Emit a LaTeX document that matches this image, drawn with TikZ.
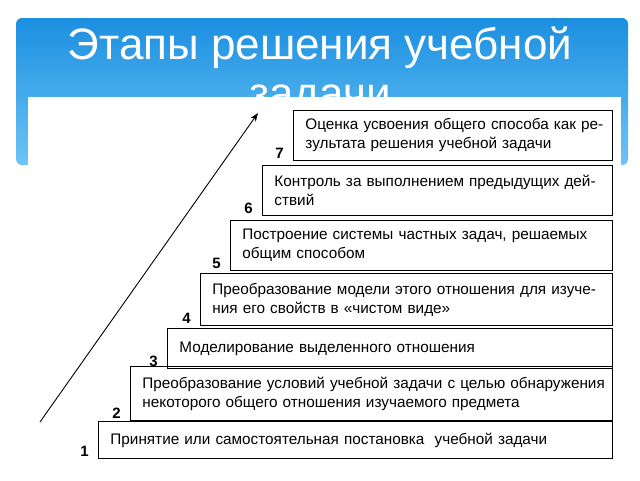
\documentclass[tikz,border=0pt]{standalone}
\usepackage{fontspec}
\setmainfont{Liberation Sans}
\usetikzlibrary{positioning}
\usetikzlibrary{arrows.meta}
\tikzset{
  stage/.style={draw, line width=0.9pt, anchor=north west, inner sep=0pt,
    align=left, font=\fontsize{15.3}{19}\selectfont},
  num/.style={font=\bfseries\fontsize{15}{16}\selectfont, inner sep=1pt},
}
\definecolor{bartop}{HTML}{1B8FE0}
\definecolor{barbot}{HTML}{6DC4F6}
\begin{document}
\begin{tikzpicture}[x=1pt,y=-1pt]
    \useasboundingbox (0,0) rectangle (640,480);
    % title bar
    \shade[top color=bartop, bottom color=barbot, rounded corners=6pt]
      (16,18) rectangle (628,165);
    \node[text=white, font=\fontsize{44}{49}\selectfont, align=center] (title)
      at (320,72) {Этапы решения учебной\\задачи};
    \fill[white] (28,97) rectangle (621,480);
    % stages
    \node[stage, minimum width=319, minimum height=50, text width=309] (s7) at (293,110) {\hspace*{7pt}Оценка усвоения общего способа как ре-\\\hspace*{7pt}зультата решения учебной задачи};
    \node[stage, minimum width=350, minimum height=50, text width=340] (s6) at (262,165) {\hspace*{7pt}Контроль за выполнением предыдущих дей-\\\hspace*{7pt}ствий};
    \node[stage, minimum width=382, minimum height=50, text width=372] (s5) at (230,220) {\hspace*{7pt}Построение системы частных задач, решаемых\\\hspace*{7pt}общим способом};
    \node[stage, minimum width=412, minimum height=52, text width=402] (s4) at (200,273) {\hspace*{7pt}Преобразование модели этого отношения для изуче-\\\hspace*{7pt}ния его свойств в «чистом виде»};
    \node[stage, minimum width=445, minimum height=40, text width=435] (s3) at (167,328) {\hspace*{7pt}Моделирование выделенного отношения};
    \node[stage, minimum width=482, minimum height=54, text width=472] (s2) at (130,366) {\hspace*{7pt}Преобразование условий учебной задачи с целью обнаружения\\\hspace*{7pt}некоторого общего отношения изучаемого предмета};
    \node[stage, minimum width=514, minimum height=37, text width=504] (s1) at (98,421) {\hspace*{7pt}Принятие или самостоятельная постановка\ \ учебной задачи};
    % numbers
    \foreach \i in {1,...,7}
      \node[num, above left=1pt and 8pt of s\i.south west] (n\i) {\i};
    % arrow
    \coordinate (a0) at (40,422);
    \coordinate (a1) at (258,113);
    \draw[line width=0.9pt, -{Stealth[length=3mm]}] (a0) -- (a1);
\end{tikzpicture}
\end{document}
